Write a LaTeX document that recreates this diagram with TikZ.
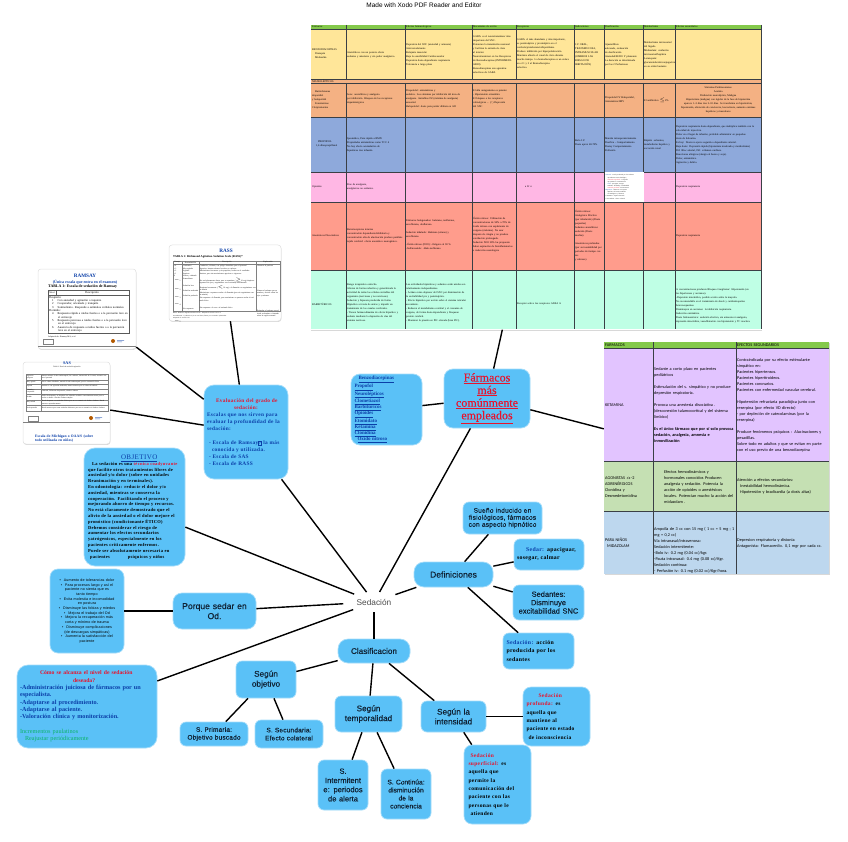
\documentclass[tikz,border=0pt]{standalone}
\usepackage{fontspec}
\usetikzlibrary{shapes.geometric,shadows}
\setmainfont{Liberation Serif}
\setsansfont{Liberation Sans}
\newfontfamily\srs[LetterSpace=6]{Liberation Serif}
\newfontfamily\srd[FakeBold=.3]{Liberation Serif}
\newfontfamily\sss[LetterSpace=3,FakeBold=.3]{Liberation Sans}
\newfontfamily\ssb[LetterSpace=3]{Liberation Sans}
\newfontfamily\smed[FakeBold=.25]{Liberation Sans}
\newfontfamily\clb{Carlito}
\definecolor{nodeblue}{HTML}{5AC1F7}
\definecolor{nodeedge}{HTML}{A5DDFA}
\definecolor{ink}{HTML}{0F2133}
\definecolor{dblue}{HTML}{0B3FA8}
\definecolor{dred}{HTML}{E8132D}
\definecolor{dgreen}{HTML}{0CB368}
\definecolor{rowY}{HTML}{FFE699}
\definecolor{rowO}{HTML}{F4B183}
\definecolor{rowB}{HTML}{8EA9DB}
\definecolor{rowP}{HTML}{FFB7E4}
\definecolor{rowS}{HTML}{FF9C8C}
\definecolor{rowT}{HTML}{BFFFE5}
\definecolor{rowV}{HTML}{E2C4FF}
\definecolor{rowG}{HTML}{C5E0B3}
\definecolor{rowL}{HTML}{BDD7EE}
\definecolor{hdr}{HTML}{84C94B}
\definecolor{grid}{HTML}{3A3F45}
\newcommand\fz[2]{\fontsize{#1}{#2}\selectfont}
\newcommand\ul[1]{\underline{#1}}
\tikzset{
 bluebox/.style={fill=nodeblue,draw=nodeedge,line width=.7pt,rounded corners=8pt,inner sep=0pt,text=ink,align=center},
 tcellstyle/.style={inner sep=0pt,anchor=west,align=left,text=black},
 link/.style={line width=1.4pt,black},
 card/.style={fill=white,draw=black!12,line width=.5pt,rounded corners=3pt,inner sep=0pt,drop shadow={shadow xshift=.4pt,shadow yshift=-.9pt,opacity=.3}},
 tablebox/.style={inner sep=0pt},
 gridline/.style={grid,line width=.8pt},
}
\newcommand\bx[7][]{\node[bluebox,minimum width={(#5-#3)*1pt},minimum height={(#6-#4)*1pt},#1] (#2) at ({(#3+#5)/2},{(#4+#6)/2}) {#7};}
\newcommand\tcell[5]{\node[tcellstyle,text width=#4pt,font=\fz{2.65}{4}] (#1) at (#2,#3) {#5};}
\newcommand\tcelb[5]{\node[tcellstyle,text width=#4pt,font=\clb\fz{4.25}{6}] (#1) at (#2,#3) {#5};}
\begin{document}
\begin{tikzpicture}[x=1pt,y=-1pt]
\useasboundingbox (0,0) rectangle (848,842);
\fill[white] (0,0) rectangle (848,842);
\node[inner sep=0pt,font=\sffamily\fz{6.45}{8},text=black] (made) at (424,5) {Made with Xodo PDF Reader and Editor};

% ---------- main table ----------
\node[tablebox,fill=white,minimum width=451pt,minimum height=305pt,drop shadow={shadow xshift=.5pt,shadow yshift=-1pt,opacity=.3}] (tabA) at (536,177) {};
\fill[hdr] (311,25) rectangle (761,29);
\fill[rowY] (311,29) rectangle (761,79);
\fill[rowO] (311,79) rectangle (761,117);
\fill[rowB] (311,117) rectangle (761,172);
\fill[rowP] (311,172) rectangle (761,202);
\fill[rowS] (311,202) rectangle (761,270);
\fill[rowT] (311,270) rectangle (761,329);
\foreach \yy in {29,79,83,117,172,202,270} \draw[gridline] (311,\yy) -- (761,\yy);
\foreach \xx in {346,405,472,516,574,604,643,675} {
 \draw[gridline] (\xx,25) -- (\xx,79);
 \draw[gridline] (\xx,83) -- (\xx,329);}
\draw[gridline] (761,25) -- (761,329);
% header
\tcell{h1}{312}{27}{30}{Fármacos}
\tcell{h3}{406}{27}{60}{Efectos farmacológicos}
\tcell{h4}{473}{27}{42}{Mecanismo de acción}
\tcell{h5}{517}{27}{40}{Receptores}
\tcell{h6}{575}{27}{28}{Indicaciones}
\tcell{h7}{605}{27}{36}{Dosificación}
\tcell{h8}{644}{27}{30}{Metabolismo}
\tcell{h9}{676}{27}{70}{Efectos secundarios}
% yellow
\tcell{y1}{312}{54}{33}{BENZODIACEPINAS\\\hspace*{3pt}Diazepán\\\hspace*{3pt}Midazolán}
\tcell{y2}{347}{55}{57}{Ansiolíticos con un potente efecto\\sedantes y amnésico y sin poder analgésico.}
\tcell{y3}{406}{55}{65}{Depresión del SNC (ansiedad y amnesia)\\Anticonvulsivante\\Relajante muscular\\Baja la sensibilidad Cardiovascular\\Depresión dosis-dependiente respiratoria\\Tolerancia a largo plazo}
\tcell{y4}{473}{55}{42}{GABA: es el neurotransmisor más\\importante del SNC.\\Potencian la transmisión neuronal\\y facilitan la entrada de cloro\\al interior.\\Neurotransmisor en los Receptores\\de Benzodiacepinas (INTERMEDIARIO)\\Benzodiacepinas son agonistas\\selectivos de GABA}
\tcell{y5}{517}{54}{56}{GABA: el más abundante y más importante,\\es postsináptico y presináptico en el\\cerebelo/protuberancia/hipotálamo.\\Produce inhibición por hiperpolarización.\\Mantiene abierto el canal de cloro durante\\mucho tiempo. La benzodiacepina es un enlace\\en el 1 y 2 al Benzodiacepina\\selectivo.}
\tcell{y6}{575}{55}{28}{I.V. ORAL,\\TRANSMUCOSA,\\INTRAMUSCULAR\\(OMBROS LAS\\RIESGO DE\\IRRITACIÓN)}
\tcell{y7}{605}{55}{37}{Ajustar/Bien\\adecuado, evaluación\\de dosificación\\Ansiedad/SEDO Y planeante\\La duración es determinada\\por las 2 Perfusiones}
\tcell{y8}{644}{55}{30}{Metabolismo microsomal\\del hígado\\Midazolam: oxidación\\microsomal/hepática\\Lorazepam:\\glucuronidación/conjugación\\en su orden bastante}
% band
\tcell{n1}{312}{81}{60}{NEUROLÉPTICOS}
% orange
\tcell{o1}{312}{100}{33}{\hspace*{3pt}Butirofenonas\\droperidol\\y haloperidol\\\hspace*{3pt}Fenotiazinas\\Clorpromazina}
\tcell{o2}{347}{99}{57}{Sonc. ansiolíticos y analgesia\\por inhibición. Bloqueo de los receptores\\dopaminérgicos}
\tcell{o3}{406}{99}{65}{Droperidol: antieméticas y\\sedativa. Los síntomas por inhibición del área de\\analgesia. Antiafitos D2 (máxima de analgesia)\\sensorial.\\Haloperidol: dosis para perder diálisis en AII}
\tcell{o4}{473}{99}{42}{El alfa antagonismo es potente:\\- Hipotensión ortostática\\El bloqueo a los receptores\\colinérgicos ... (↑) Depresión\\del SNC}
\tcell{o7}{605}{100}{37}{Droperidol IV Haloperidol,\\Antiemético/IMV}
\tcell{o8}{644}{100}{30}{El antibiótico $\leq$2\%}
\node[tcellstyle,text width=84pt,font=\fz{2.65}{4},align=center] (o9) at (676,100) {Síntomas Parkinsonianos\\Acatisia\\Disfunción neuroléptica, Maligna\\Hipertermia (maligna) con rigidez de la fase de hipotermia\\aparece 1–3 días tras 5–10 días. Se transforma en hipertermia,\\hipotensión, alteración de conciencia, leucocitosis, aumento enzimas\\hepáticas y musculares};
% blue
\tcell{b1}{316}{144}{30}{\hspace*{2pt}PROPOFOL\\1,6 diisopropilfenol}
\tcell{b2}{347}{145}{57}{Ipsomética, Para rápido a RMN\\Propiedades antieméticas como TCC 4\\No hay efecto acumulativo de\\hipnóticos tras infusión}
\tcell{b6}{575}{143}{28}{Bolo I.V.\\Dosis aprox 40-70\%}
\tcell{b7}{605}{145}{37}{Mantén intraoperatoriamente\\Dosifica - Comportamiento\\Dosisy Comportamiento\\Perfusión}
\tcell{b8}{644}{145}{30}{Rápida: solventes,\\metabolismo hepático y\\excreción renal}
\tcell{b9}{676}{145}{84}{Depresión respiratoria dosis-dependiente, que multiplica también con la\\velocidad de inyección.\\Dolor en el lugar de infusión, probable administrar en pequeñas\\dosis de lidocaína.\\Es hoy: Dosis no ejerce seguida o dependiente arterial.\\Baja dosis: Depresión rápida (hipotermia moderada y metabolismo)\\Dif. Bloc arterial, Dif. vólumen cardíaco.\\Reacciones alérgicas (alergia al huevo y soja).\\Dolor, antiemético.\\Agitación y delirio.}
% pink
\tcell{p1}{312}{187}{30}{Opioides}
\tcell{p2}{347}{187}{57}{Fine de analgesia,\\analgésicos no sedantes.}
\tcell{p5}{525}{187}{30}{a Fr n}
\node[fill=white,inner sep=0pt,minimum width=39pt,minimum height=30pt] (ins) at (624,187) {};
\node[inner sep=0pt,text width=37pt,align=left,font=\fz{1.55}{2.1}] (inst) at (624,187) {\textcolor{dblue}{Sedación:} acción producida por los sedantes\\\hspace*{2pt}que inducen sueño fisiológico\\\hspace*{2pt}\textcolor{dred}{Sedación superficial:} es aquella\\\hspace*{2pt}que permite la comunicación\\\hspace*{2pt}\textcolor{dblue}{Sedar:} apaciguar, sosegar\\\hspace*{2pt}Sedantes: disminuye excitabilidad\\\hspace*{2pt}\textcolor{dred}{Sedación profunda:} inconsciencia\\\textcolor{dblue}{Hipnóticos:} fármacos con aspecto\\\hspace*{2pt}hipnótico del sueño inducido\\\hspace*{2pt}en fisiológicos y fármacos\\S. Primaria: objetivo buscado\\S. Secundaria: efecto colateral};
\tcell{p9}{676}{187}{80}{Depresión respiratoria}
% salmon
\tcell{s1}{312}{236}{33}{Anestésicos Disociativos}
\tcell{s2}{347}{236}{57}{Barorreceptores intactos\\concentración dependiente/inhibitoria y\\concentración alta de alucinación produce parálisis\\tejido cerebral: efecto anestésico neurogénico.}
\tcell{s3}{406}{235}{65}{Fármacos halogenados: halotano, isoflurano,\\sevoflurano, desflurano.\\[4pt]Sedación inhalada: Halotano (etrano) y\\sevoflurano\\[4pt]-Óxido nitroso (N2O):  -Oxígeno al 30 \%\\-Sulfanoazida:  -Halo-isoflurano}
\tcell{s4}{473}{235}{42}{Óxido nitroso: Utilización de\\concentraciones de 50\% a 70\% de\\óxido nitroso con suplemento de\\oxígeno (máxima). No usar\\después de cirugía y no produce\\ventilación prolongada.\\Sedación N2O 50\% las propuesto\\haber aspiración de bioinflamatorios\\e inducción neurológica}
\tcell{s6}{575}{236}{28}{Óxido nitroso:\\Analgésico Efectivo\\(por inhalación) (Dosis\\pequeñas)\\Sedantes ansiolíticos:\\sedación (Dosis\\medias)\\[4pt]Anestésicos profundos\\(por su inestabilidad por\\periodos de tiempo cortos\\y sabroso)}
\tcell{s9}{676}{236}{80}{Depresión respiratoria}
% teal
\tcell{t1}{312}{304}{33}{BARBITÚRICOS}
\tcell{t2}{347}{303}{57}{Rango terapéutico estrecho.\\Alteran de forma reductiva y generalizada la\\actividad de todas las células excitables del\\organismo (nerviosas y no nerviosas).\\Sedación y hipnosis producida de forma\\Hipnótico a través de unirse y impedir un\\tratamiento de los canales cerebrales.\\ - Tienen farmacodinamia de efecto hipnótico y\\sedante mediante la depresión de vías del\\sistema nervioso.}
\tcell{t3}{406}{303}{65}{Las actividades hipnóticas y sedantes están unidas son\\relativamente independientes.\\- Actúan como depresor del SNC por disminución de\\la excitabilidad pre y postsináptica.\\- Efecto hipnótico por acción sobre el sistema reticular\\ascendente.\\- Reducen el metabolismo cerebral y el consumo de\\oxígeno, de forma dosis-dependiente y bloquean\\presión cerebral.\\- Mantener la presión en PIC elevada (bien PIC).}
\tcell{t5}{517}{304}{56}{Receptor activo los receptores GABA A}
\tcell{t9}{676}{306}{84}{A concentraciones producen Bloqueo Ganglionar: Hipotensión (en\\los hipertensos y ancianos).\\ -Depresión miocárdica, posible acción sobre la mayoría.\\No recomendable en el tratamiento de shock y cardiomiopatías\\broncoespasmos.\\Disminuyen en ancianos: la inhibición respiratoria.\\Inducción enzimática.\\Dosis Subanestésica: sedación efectiva, sin amnesia ni analgesia,\\depresión miocárdica, vasodilatación con hipotensión y TC reactiva.}

% ---------- second table ----------
\node[tablebox,fill=white,minimum width=225pt,minimum height=232pt,drop shadow={shadow xshift=.5pt,shadow yshift=-1pt,opacity=.3}] (tabB) at (716.5,458) {};
\fill[hdr] (604,342) rectangle (829,348);
\fill[rowV] (604,348) rectangle (829,461);
\fill[rowG] (604,461) rectangle (829,511);
\fill[rowL] (604,511) rectangle (829,574);
\foreach \yy in {348,461,511} \draw[gridline] (604,\yy) -- (829,\yy);
\foreach \xx in {653,736} \draw[gridline] (\xx,342) -- (\xx,574);
\tcelb{k0}{605}{345}{40}{FARMACOS}
\tcelb{k00}{737}{345}{90}{EFECTOS SEGUNDARIOS}
\tcelb{k1}{605}{405}{45}{KETAMINA}
\tcelb{k2}{654}{405}{81}{Sedante a corto plazo en pacientes\\pediátricos\\[6pt]Estimulación del s. simpático y no produce\\depresión respiratoria.\\[6pt]Provoca una anestesia disociativa .\\(desconexión talamocortical y del sistema\\límbico)\\[6pt]\textbf{Es el único fármaco que por sí solo provoca}\\\textbf{sedación, analgesia, amnesia e}\\\textbf{inmovilización}}
\tcelb{k3}{737}{405}{91}{Contraindicada por su efecto estimulante\\simpático en:\\Pacientes hipertensos.\\Pacientes hipertiroideos.\\Pacientes coronarios.\\Pacientes con enfermedad vascular cerebral.\\[6pt]Hipotensión refractaria paradójica junto con\\reserpina (por efecto VD directo)\\ · por depleción de catecolaminas (por la\\reserpina)\\[6pt]Produce fenómenos psíquicos : Alucinaciones y\\pesadillas.\\ Sobre todo en adultos y que se evitan en parte\\con el uso previo de una benzodiacepina}
\tcelb{g1}{605}{487}{46}{AGONISTAS $\alpha$-2\\ADRENÉRGICOS\\Clonidina y\\Dexmedetomidina}
\tcelb{g2}{664}{487}{71}{Efectos hemodinámicos y\\ hormonales conocidos Producen\\analgesia y sedación. Potencia la\\acción de opioides o anestésicos\\locales. Potencian mucho la acción del\\midazolam .}
\tcelb{g3}{737}{486}{91}{Atención a efectos secundarios:\\\hspace*{3pt}Inestabilidad hemodinámica.\\\hspace*{3pt}Hipotensión y bradicardia (a dosis altas)}
\tcelb{u1}{605}{543}{46}{PARA NIÑOS\\\hspace*{2pt}MIDAZOLAM}
\tcelb{u2}{654}{550.5}{81}{Ampolla de 3 cc con 15 mg  ( 1 cc = 5 mg ; 1\\mg = 0,2 cc)\\Vía intranasal/intravenosa:\\Sedación intermitente:\\ -Bolo iv: 0.2 mg (0.04 cc)/kgr.\\ -Pauta intranasal: 0.4 mg (0.08 cc)/Kgr.\\Sedación continua:\\ - Perfusión iv: 0.1 mg (0.02 cc)/Kgr/hora.}
\tcelb{u3}{737}{543}{91}{Depresion respiratoria y distonia\\Antagonista: Flumacenilo. 0,1 mgr por cada cc.}

% ---------- RAMSAY card ----------
\node[card,minimum width=98pt,minimum height=80pt] (ramsay) at (87,309) {};
\node[inner sep=0pt,font=\bfseries\fz{5.2}{6},text=dblue] (ra1) at (85,276) {RAMSAY};
\node[inner sep=0pt,font=\bfseries\fz{4}{5},text=dblue] (ra2) at (85,282) {(Única escala que entra en el examen)};
\node[inner sep=0pt,anchor=west,font=\fz{3.9}{5},text=black] (ra3) at (48,287) {\textbf{TABLA 1: Escala de sedación de Ramsay}};
\draw[black!65,line width=.5pt] (48,290) rectangle (129,333) (48,295) -- (129,295) (56,290) -- (56,295);
\node[inner sep=0pt,font=\fz{2.4}{3}] (ra4) at (52,292.5) {Nivel};
\node[inner sep=0pt,font=\fz{2.8}{3}] (ra5) at (92,292.5) {Descripción};
\node[inner sep=0pt,anchor=north west,text width=79pt,align=left,font=\fz{2.95}{3.35}] (ra6) at (49,296) {Despierto:\\\hspace*{3pt}1\hspace{4pt}Con ansiedad y agitación o inquieto\\\hspace*{3pt}2\hspace{4pt}Cooperador, orientado y tranquilo\\\hspace*{3pt}3\hspace{4pt}Somnoliento. Responde a estímulos verbales normales\\Dormido:\\\hspace*{3pt}4\hspace{4pt}Respuesta rápida a ruidos fuertes o a la percusión leve en\\\hspace*{9pt}el entrecejo\\\hspace*{3pt}5\hspace{4pt}Respuesta perezosa a ruidos fuertes o a la percusión leve\\\hspace*{9pt}en el entrecejo\\\hspace*{3pt}6\hspace{4pt}Ausencia de respuesta a ruidos fuertes o a la percusión\\\hspace*{9pt}leve en el entrecejo};
\node[inner sep=0pt,anchor=west,font=\fz{2.1}{3}] (ra7) at (48,336.5) {Adaptado de: Ramsay MA, et al.};
\draw[black!50,line width=.3pt] (43,339) rectangle (53,344) (38,346.5) -- (136,346.5);
\fill[orange!70!black] (113,341) circle (2pt);
\fill[dblue!70] (117,340) rectangle (124,340.7) (117,341.5) rectangle (122,342.2);

% ---------- RASS card ----------
\node[card,minimum width=112pt,minimum height=76pt] (rass) at (225,283) {};
\node[inner sep=0pt,font=\bfseries\fz{5.2}{6},text=dblue] (rs1) at (226,251) {RASS};
\node[inner sep=0pt,anchor=west,font=\bfseries\fz{2.9}{3.5}] (rs2) at (173,257) {TABLA 1: Richmond Agitation-Sedation Scale (RASS)*};
\draw[black!50,line width=.25pt] (173,261) rectangle (280,311) (173,264) -- (280,264) (182,261) -- (182,311) (199,261) -- (199,311) (256,261) -- (256,311);
\node[inner sep=0pt,font=\fz{1.9}{2.4}] (rs3) at (177.5,262.5) {Puntaje};
\node[inner sep=0pt,font=\fz{1.9}{2.4}] (rs4) at (190.5,262.5) {Denominación};
\node[inner sep=0pt,font=\fz{1.9}{2.4}] (rs5) at (227,262.5) {Descripción};
\node[inner sep=0pt,font=\fz{1.9}{2.4}] (rs6) at (268,262.5) {Exploración};
\node[inner sep=0pt,anchor=north west,text width=8pt,align=left,font=\fz{1.9}{2.55}] (rs7) at (174,265) {+4\\+3\\+2\\+1\\0\\$-$1\\[4.6pt]$-$2\\[2.4pt]$-$3\\[2.4pt]$-$4\\[11pt]$-$5};
\node[inner sep=0pt,anchor=north west,text width=16pt,align=left,font=\fz{1.9}{2.55}] (rs8) at (183,265) {Combativo\\Muy agitado\\Agitado\\Inquieto\\Alerta y calmado\\Somnoliento\\[4.6pt]Sedación leve\\[2.4pt]Sedación moderada\\[2.4pt]Sedación profunda\\[11pt]Sin respuesta};
\node[inner sep=0pt,anchor=north west,text width=56pt,align=left,font=\fz{1.9}{2.55}] (rs9) at (199.6,265) {Combativo, violento, con peligro inmediato para el personal\\Agresivo, intenta retirarse los tubos o catéteres\\Movimientos frecuentes y sin propósito, lucha con el ventilador\\Ansioso, pero sin movimientos agresivos o vigorosos\\\mbox{}\\No está plenamente alerta, pero se mantiene ($\geq$10 seg) despierto (apertura de ojos y seguimiento con la mirada) a la llamada\\Despierta brevemente ($<$10 seg) a la llamada con seguimiento con la mirada\\Movimiento o apertura ocular a la llamada (pero sin seguimiento con la mirada)\\Sin respuesta a la llamada, pero movimiento o apertura ocular al estímulo físico\\[5pt]Sin respuesta a la voz o al estímulo físico};
\node[inner sep=0pt,anchor=north west,text width=22pt,align=left,font=\fz{1.9}{2.55}] (rs10) at (257,265) {Observar al paciente\\[22pt]Llamar al enfermo por su nombre y decirle «abra los ojos y míreme»\\[13pt]Estimular al enfermo sacudiendo su hombro o frotando sobre la región esternal};
\node[inner sep=0pt,anchor=north west,text width=105pt,align=left,font=\fz{1.55}{2.3}] (rs11) at (173,312.5) {RASS: Richmond Agitation-Sedation Scale. Adaptado de Sessler CN et al.\\Procedimiento: 1) Observar 2) Si no está alerta, llamar por su nombre 3) Estimular\\Adaptado de: Sessler CN.};

% ---------- SAS card ----------
\node[card,minimum width=87pt,minimum height=82pt] (sas) at (66.5,403) {};
\node[inner sep=0pt,font=\bfseries\fz{4.2}{5},text=dblue] (sa1) at (67,363) {SAS};
\node[inner sep=0pt,font=\fz{1.8}{2.2}] (sa2) at (67,367) {Tabla 2. Escala de sedación agitación};
\draw[black!50,line width=.25pt] (26,374) rectangle (108,411) (26,380) -- (108,380) (26,384) -- (108,384) (26,388.7) -- (108,388.7) (26,394) -- (108,394) (26,400) -- (108,400) (26,405) -- (108,405) (41,374) -- (41,411);
\foreach \nm/\yy/\la/\de in {a/377/{Agitación\\peligrosa}/{Intenta retirarse el tubo endotraqueal, los catéteres, intenta salir de la cama, arremete contra el personal},
  b/382/{Muy agitado}/{No se calma al hablarle, muerde el tubo endotraqueal, precisa contención física},
  c/386.3/{Agitado}/{Ansioso o con agitación moderada, intenta sentarse pero se calma al hablarle},
  d/391.3/{Calmado y\\cooperador}/{Calmado, fácilmente despertable, obedece órdenes},
  e/397/{Sedado}/{Difícil de despertar, se despierta con estímulos verbales o movimientos suaves pero se vuelve a dormir. Obedece órdenes simples},
  f/402.5/{Muy sedado}/{Puede despertar con estímulos físicos pero no se comunica ni obedece órdenes. Puede moverse espontáneamente},
  g/408/{No despertable}/{Puede moverse poco ante estímulos dolorosos pero no se comunica ni obedece órdenes}} {
  \node[inner sep=0pt,anchor=west,text width=14pt,align=left,font=\fz{1.7}{1.9}] (sal\nm) at (26.6,\yy) {\la};
  \node[inner sep=0pt,anchor=west,text width=65pt,align=left,font=\fz{1.75}{2.2}] (sad\nm) at (41.8,\yy) {\de};
}
\draw[black!50,line width=.3pt] (28,416) rectangle (38,421) (23,422) -- (110,422);
\fill[orange!70!black] (91,418) circle (2pt);
\fill[dblue!70] (95,417) rectangle (102,417.7) (95,418.5) rectangle (100,419.2);
\node[inner sep=0pt,anchor=north west,text width=70pt,align=left,font=\bfseries\fz{3.7}{4.4},text=dblue] (sa3) at (35,434.5) {Escala de Michigan o OAA/S (sobre\\todo utilizada en niños)};

% ---------- blue nodes ----------
\node[ellipse,inner sep=0pt,minimum width=62pt,minimum height=20pt,font=\sffamily\fz{8.3}{10},text=black!70] (sed) at (374,602) {Sedación};

\bx[rounded corners=10pt,text width=78pt,font=\srs\bfseries\fz{5.35}{7},align=left,text=dblue]{eval}{204}{385}{288}{479}{\hspace*{9pt}\textcolor{dred}{Evaluación del grado de}\\\hspace*{27pt}\textcolor{dred}{sedación:}\\Escalas que nos sirven para\\evaluar la profundidad de la\\sedación:\\\mbox{}\\\hspace*{2pt}- Escala de Ramsay{\setlength{\fboxsep}{.4pt}\setlength{\fboxrule}{.25pt}\fbox{\fz{4}{4}?}} la más\\\hspace*{5pt}conocida y utilizada.\\\hspace*{2pt}- Escala de SAS\\\hspace*{2pt}- Escala de RASS}

\bx[rounded corners=11pt,text width=93pt,font=\srs\bfseries\fz{4.5}{5.8},align=left,text=black]{obj}{84}{448}{185}{566}{\hspace*{33pt}{\fz{7}{7}\mdseries\textcolor{dblue}{\ul{OBJETIVO}}}\\\hspace*{4pt}La sedación es una \textcolor{dred}{técnica coadyuvante}\\\hspace*{0pt}que facilite otros tratamientos libres de\\ansiedad y/o dolor (sobre en unidades\\Reanimación y en terminales).\\En odontología: reducir el dolor y/o\\ansiedad, mientras se conserva la\\cooperación. Facilitando el proceso y\\mejorando ahorro de tiempo y recursos.\\No está claramente demostrado que el\\alivio de la ansiedad o el dolor mejore el\\pronóstico (condicionante ÉTICO)\\Debemos considerar el riesgo de\\aumentar los efectos secundarios\\yatrógenicos, especialmente en los\\pacientes críticamente enfermos.\\Puede ser absolutamente necesaria en\\\hspace*{2pt}pacientes\hspace{18pt}psíquicos y niños}

\bx[text width=70pt,font=\ssb\fz{3.65}{4.7},text=black]{bul}{50}{569}{124}{653}{•\hspace{3pt}Aumento de tolerancias dolor\\•\hspace{3pt}Para procesos largo y así el\\paciente no sienta que es\\tanto tiempo\\•\hspace{3pt}Evita molestia e incomodidad\\en postura\\•\hspace{3pt}Disminuye las fobias y miedos\\•\hspace{3pt}Mejora el trabajo del Od\\•\hspace{3pt}Mejora la recuperación más\\corta y mínimo de trauma\\•\hspace{3pt}Disminuye complicaciones\\(de descargas simpáticas)\\•\hspace{3pt}Aumenta la satisfacción del\\paciente}

\bx[rounded corners=9pt,text width=72pt,font=\smed\fz{8.6}{10}]{porq}{173}{593}{256}{629}{Porque sedar en\\Od.}

\bx[rounded corners=11pt,text width=134pt,font=\bfseries\fz{6.2}{7.35},align=left,text=dblue]{como}{17}{665}{157}{748}{\hspace*{20pt}{\fz{5.7}{7}\textcolor{dred}{Cómo se alcanza el nivel de sedación}}\\\hspace*{53pt}{\fz{5.7}{7}\textcolor{dred}{deseada?}}\\-Administración juiciosa de fármacos por un\\especialista.\\-Adaptarse al procedimiento.\\-Adaptarse al paciente.\\-Valoración clínica y monitorización.\\\mbox{}\\\textcolor{dgreen}{\mdseries Incrementos paulatinos}\\\hspace*{5pt}\textcolor{dgreen}{\mdseries Reajustar periódicamente}}

\bx[rounded corners=6pt,text width=56pt,font=\smed\fz{8.2}{10}]{sobj}{236}{661}{296}{698}{Según\\objetivo}
\bx[rounded corners=6pt,text width=64pt,font=\sss\fz{6.5}{7.8}]{sprim}{180}{722}{248}{746}{S. Primaria:\\Objetivo buscado}
\bx[rounded corners=6pt,text width=64pt,font=\sss\fz{6.5}{8}]{ssec}{255}{720}{323}{748}{S. Secundaria:\\Efecto colateral}
\bx[rounded corners=10pt,text width=68pt,font=\smed\fz{8.2}{10}]{clas}{338}{639}{410}{663}{Clasificacion}
\bx[rounded corners=6pt,text width=62pt,font=\smed\fz{8.2}{9.8}]{stem}{335}{696}{402}{732}{Según\\temporalidad}
\bx[rounded corners=6pt,text width=60pt,font=\smed\fz{8.2}{9.8}]{sint}{421}{701}{486}{732}{Según la\\intensidad}
\bx[rounded corners=8pt,text width=60pt,font=\srs\bfseries\fz{5.5}{8.35},align=left,text=black]{prof}{523}{687}{590}{746}{\hspace*{12pt}\textcolor{dred}{Sedación}\\\textcolor{dred}{profunda:} es\\aquella que\\mantiene al\\paciente en estado\\\hspace*{2pt}de inconsciencia}
\bx[rounded corners=8pt,text width=58pt,font=\srs\bfseries\fz{5.5}{8.35},align=left,text=black]{sup}{464}{745}{531}{824}{\hspace*{2pt}\textcolor{dred}{Sedación}\\\textcolor{dred}{superficial:} es\\aquella que\\permite la\\comunicación del\\paciente con las\\personas que le\\\hspace*{2pt}atienden}
\bx[rounded corners=6pt,text width=46pt,font=\smed\fz{7.6}{9.2}]{sinte}{318}{760}{368}{810}{S.\\Intermitent\\e: periodos\\de alerta}
\bx[rounded corners=6pt,text width=46pt,font=\smed\fz{6.7}{8}]{scon}{381}{769}{431}{819}{S. Continúa:\\disminución\\de la\\conciencia}

\bx[rounded corners=10pt,text width=72pt,font=\smed\fz{8.6}{10}]{defi}{414}{562}{493}{587}{Definiciones}
\bx[rounded corners=6pt,text width=74pt,font=\sss\fz{6.6}{7}]{sueno}{463}{502}{542}{534}{Sueño inducido en\\fisiológicos, fármacos\\con aspecto hipnótico}
\bx[rounded corners=6pt,text width=64pt,font=\srs\bfseries\fz{5.8}{8},align=left,text=black]{sedar}{514}{539}{584}{570}{\hspace*{9pt}\textcolor{dblue}{Sedar:} apaciguar,\\sosegar, calmar}
\bx[rounded corners=6pt,text width=68pt,font=\smed\fz{7.5}{8.4}]{sedan}{513}{585}{584}{620}{Sedantes:\\Disminuye\\excitabilidad SNC}
\bx[rounded corners=6pt,text width=64pt,font=\srs\bfseries\fz{5.8}{8.3},align=left,text=black]{seda}{503}{633}{574}{669}{\textcolor{dblue}{Sedación:} acción\\producida por los\\sedantes}

\bx[rounded corners=9pt,text width=82pt,font=\srd\fz{12}{12.6},text=dred]{farm}{444}{369}{530}{428}{\ul{Fármacos}\\\ul{más}\\\ul{comúnmente}\\\ul{empleados}}
\bx[rounded corners=9pt,text width=64pt,font=\bfseries\fz{5}{6.05},align=left,text=dblue]{benz}{351}{374}{422}{445}{\hspace*{4pt}\ul{Benzodiacepinas}\\\ul{Propofol}\\\ul{Neurolépticos}\\\ul{Clometiazol}\\\ul{Barbitúricos}\\\ul{Opioides}\\\ul{Etomidato}\\\ul{Ketamina}\\\ul{Clonidina}\\\hspace*{3pt}\ul{Oxido nitroso}}

% ---------- connectors ----------
\foreach \aa/\bb in {sed/farm,sed/eval,sed/obj,sed/porq,sed/como,sed/clas,sed/defi,
 farm/tabA,farm/tabB,farm/benz,eval/ramsay,eval/rass,eval/sas,porq/bul,
 clas/sobj,clas/stem,clas/sint,sobj/sprim,sobj/ssec,stem/sinte,stem/scon,sint/prof,sint/sup,
 defi/sueno,defi/sedar,defi/sedan,defi/seda}
 \draw[link] (\aa) -- (\bb);
\end{tikzpicture}
\end{document}
